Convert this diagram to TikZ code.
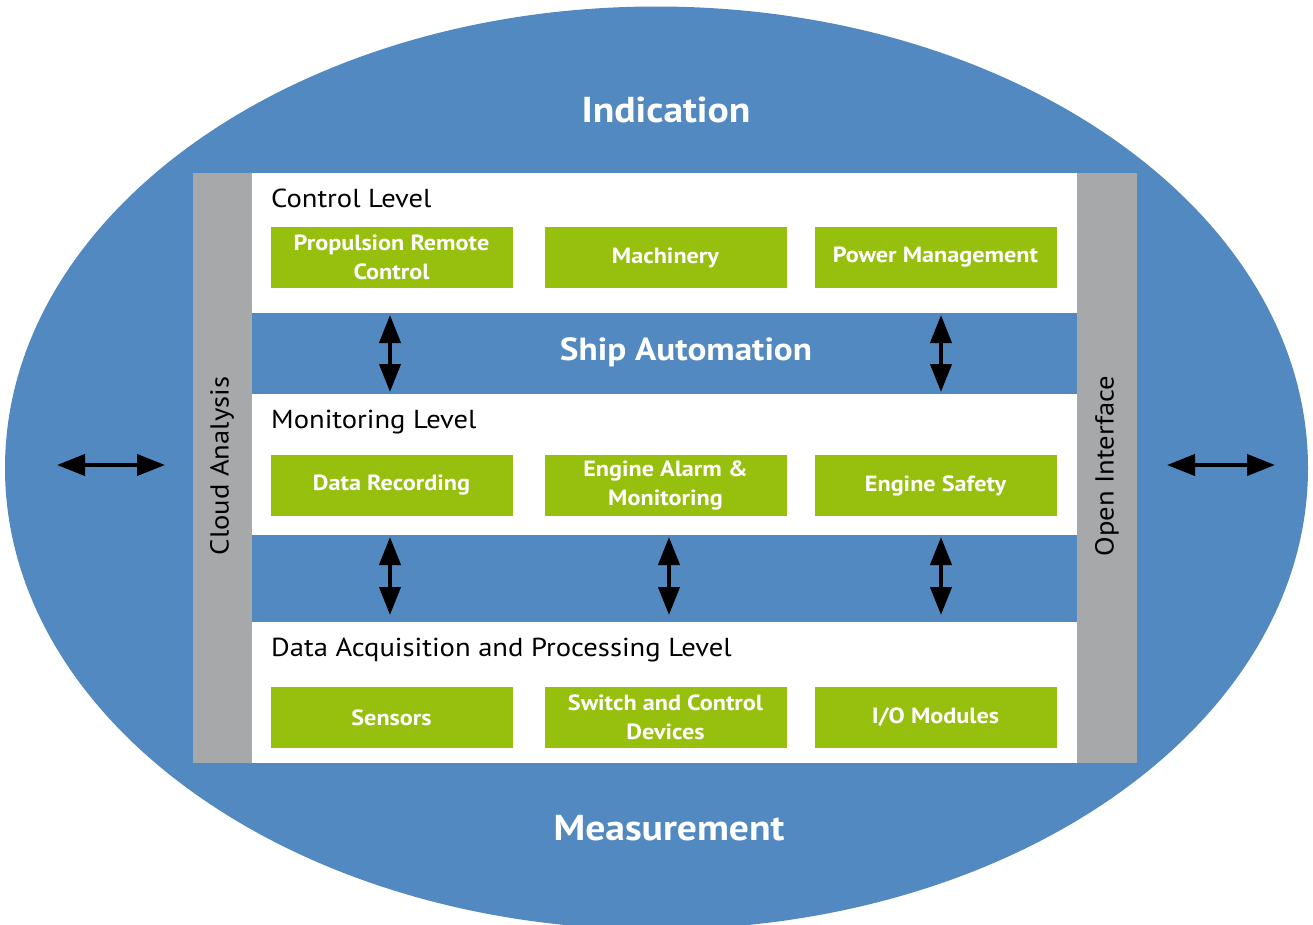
\documentclass[tikz,border=0pt]{standalone}
\usepackage{fontspec}
\setmainfont{PT Sans}[FakeStretch=1.1]
\usetikzlibrary{arrows.meta}
\definecolor{sblue}{RGB}{82,137,193}
\definecolor{sgreen}{RGB}{151,191,13}
\definecolor{sgrey}{RGB}{167,168,170}
\tikzset{
  gbox/.style={fill=sgreen, draw=none, minimum width=242pt, minimum height=61pt, inner sep=0pt,
    text=white, font=\fontsize{22}{29}\selectfont\bfseries, align=center},
  lvl/.style={anchor=base west, inner sep=0pt, font=\fontsize{26}{30}\selectfont},
  big/.style={text=white, inner sep=0pt, font=\fontsize{36}{40}\selectfont\bfseries},
  mid/.style={text=white, inner sep=0pt, font=\fontsize{32}{38}\selectfont\bfseries},
  side/.style={rotate=90, inner sep=0pt, font=\fontsize{26}{30}\selectfont},
  dbl/.style={{Triangle[width=21pt,length=28pt]}-{Triangle[width=21pt,length=28pt]}, line width=4pt, black}
}
\begin{document}
\begin{tikzpicture}[x=1pt,y=-1pt]
\useasboundingbox (0,0) rectangle (1313,924);
\begin{scope}
\clip (0,0) rectangle (1313,924);
\fill[sblue] (656.5,468) ellipse [x radius=651.5, y radius=461.5];
\end{scope}
% inner frame
\fill[white] (252,173) rectangle (1077,763);
\fill[sblue] (252,313) rectangle (1077,394);
\fill[sblue] (252,535) rectangle (1077,622);
\fill[sgrey] (193,173) rectangle (252,763);
\fill[sgrey] (1077,173) rectangle (1137,763);
% titles
\node[big] (ind) at (666,110) {Indication};
\node[mid] (ship) at (686,352) {Ship Automation};
\node[big] (meas) at (669,828) {Measurement};
\node[side] (cloud) at (222,466) {Cloud Analysis};
\node[side] (open) at (1107,466) {Open Interface};
% level labels
\node[lvl] (l1) at (271,207) {Control Level};
\node[lvl] (l2) at (271,428) {Monitoring Level};
\node[lvl] (l3) at (271,656) {Data Acquisition and Processing Level};
% green boxes
\node[gbox] (a1) at (391.5,257.5) {Propulsion Remote\\Control};
\node[gbox] (a2) at (665.5,257.5) {Machinery};
\node[gbox] (a3) at (935.5,257.5) {Power Management};
\node[gbox] (b1) at (391.5,485.5) {Data Recording};
\node[gbox] (b2) at (665.5,485.5) {Engine Alarm \&\\Monitoring};
\node[gbox] (b3) at (935.5,485.5) {Engine Safety};
\node[gbox] (c1) at (391.5,717.5) {Sensors};
\node[gbox] (c2) at (665.5,717.5) {Switch and Control\\Devices};
\node[gbox] (c3) at (935.5,717.5) {I/O Modules};
% arrow end points
\coordinate (u1t) at (390,315); \coordinate (u1b) at (390,392);
\coordinate (u2t) at (941,315); \coordinate (u2b) at (941,392);
\coordinate (v1t) at (390,537); \coordinate (v1b) at (390,615);
\coordinate (v2t) at (669,537); \coordinate (v2b) at (669,615);
\coordinate (v3t) at (941,537); \coordinate (v3b) at (941,615);
\coordinate (hl1) at (57,465); \coordinate (hl2) at (165,465);
\coordinate (hr1) at (1167,465); \coordinate (hr2) at (1275,465);
\draw[dbl] (u1t) -- (u1b);
\draw[dbl] (u2t) -- (u2b);
\draw[dbl] (v1t) -- (v1b);
\draw[dbl] (v2t) -- (v2b);
\draw[dbl] (v3t) -- (v3b);
\draw[dbl] (hl1) -- (hl2);
\draw[dbl] (hr1) -- (hr2);
\end{tikzpicture}
\end{document}
